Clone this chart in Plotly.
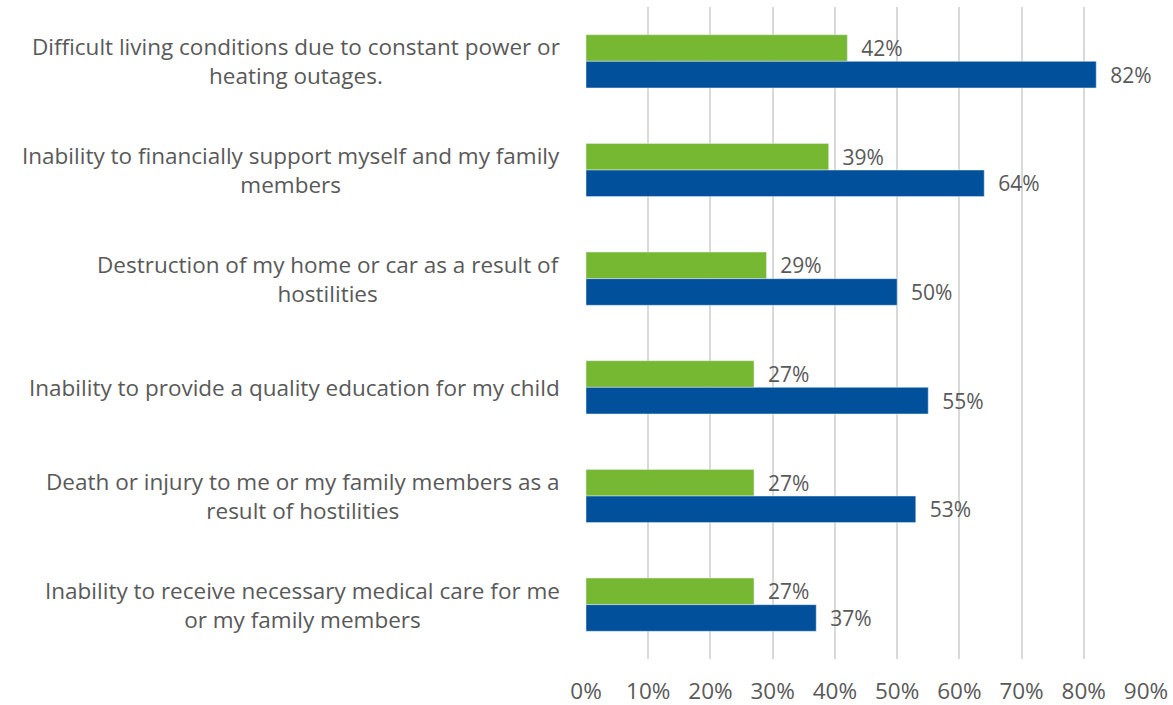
import plotly.graph_objects as go

categories = [
    "Difficult living conditions due to constant power or<br>heating outages.",
    "Inability to financially support myself and my family<br>members",
    "Destruction of my home or car as a result of<br>hostilities",
    "Inability to provide a quality education for my child",
    "Death or injury to me or my family members as a<br>result of hostilities",
    "Inability to receive necessary medical care for me<br>or my family members",
]
green_vals = [0.42, 0.39, 0.29, 0.27, 0.27, 0.27]
blue_vals = [0.82, 0.64, 0.50, 0.55, 0.53, 0.37]
x_ticks = [0, 0.1, 0.2, 0.3, 0.4, 0.5, 0.6, 0.7, 0.8, 0.9]

font_name = "Open Sans"
grey = "#595959"
pad = "\u00a0\u00a0"

fig = go.Figure()
fig.add_trace(go.Bar(
    y=categories, x=green_vals, orientation="h", marker_color="#76B832",
    texttemplate=pad + "%{x:.0%}", textposition="outside", cliponaxis=False,
    constraintext="none",
    textfont=dict(size=21, color=grey, family=font_name),
))
fig.add_trace(go.Bar(
    y=categories, x=blue_vals, orientation="h", marker_color="#00509B",
    texttemplate=pad + "%{x:.0%}", textposition="outside", cliponaxis=False,
    constraintext="none",
    textfont=dict(size=21, color=grey, family=font_name),
))

# category labels, centred lines like the source chart
for c in categories:
    fig.add_annotation(
        x=0, xref="paper", y=c, yref="y", text=c, showarrow=False,
        xanchor="right", align="center", xshift=-24,
        font=dict(size=22.5, color=grey, family=font_name),
    )

fig.update_layout(
    width=1173, height=705,
    margin=dict(l=586, r=27, t=7, b=46),
    barmode="group", bargap=0.51, bargroupgap=0,
    plot_bgcolor="white", paper_bgcolor="white",
    showlegend=False,
    font=dict(family=font_name, color=grey),
)
fig.update_xaxes(
    range=[0, 0.9], tickvals=x_ticks, tickformat=".0%", automargin=False,
    showgrid=True, gridcolor="#d9d9d9", gridwidth=2, zeroline=False,
    tickfont=dict(size=22.5, color=grey), ticklabelstandoff=16,
)
fig.update_yaxes(autorange="reversed", showticklabels=False, showgrid=False,
                 automargin=False)

fig.write_html("out.html", config={"displayModeBar": False},
               post_script="document.body.style.margin='0';")
